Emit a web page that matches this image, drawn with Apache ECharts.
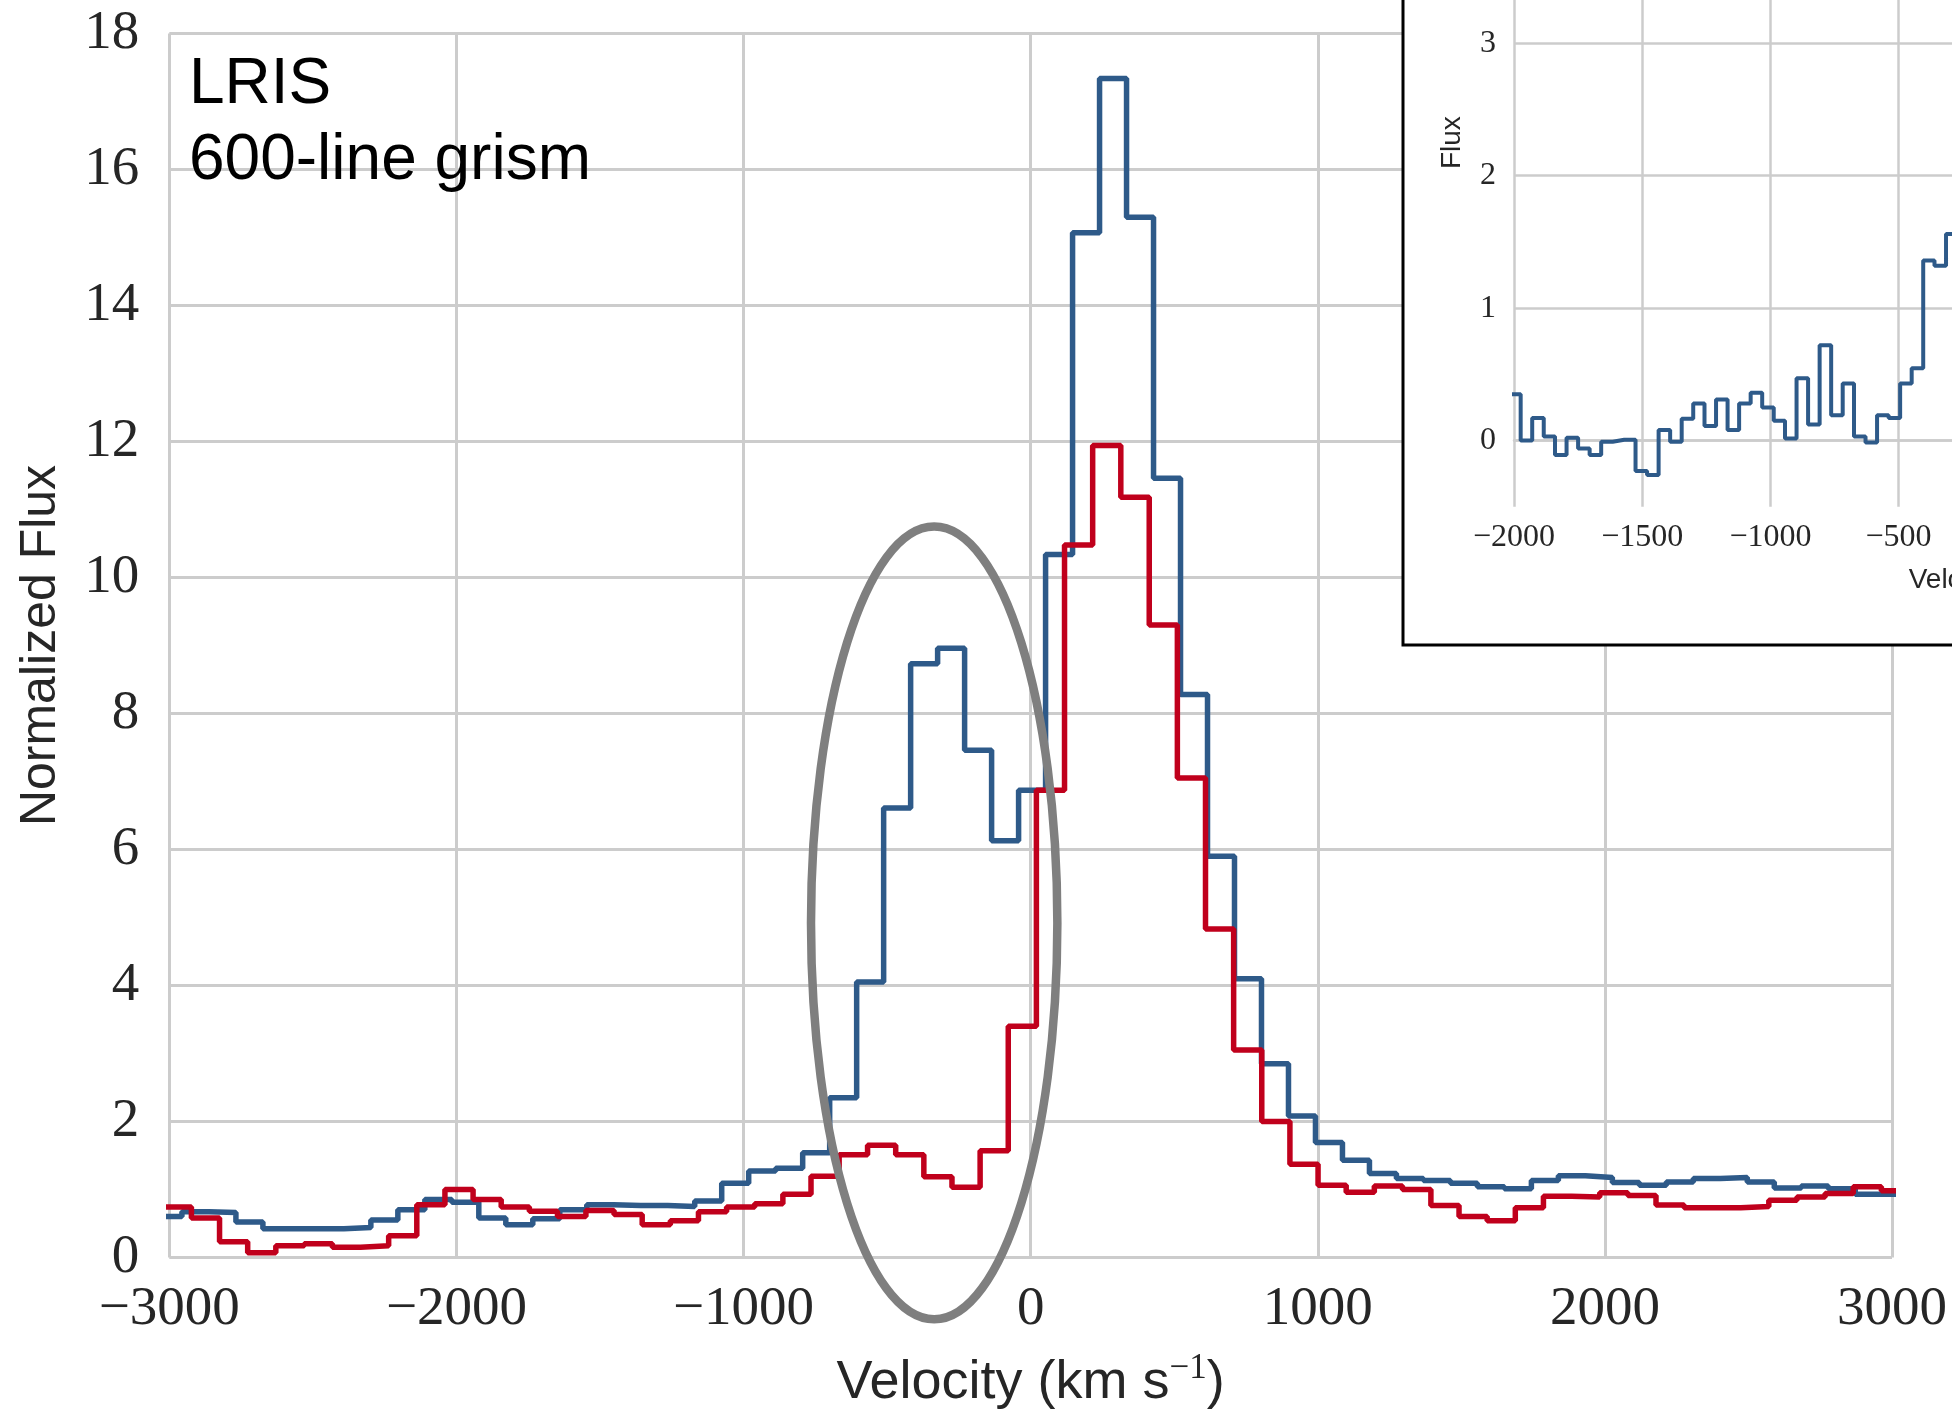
<!DOCTYPE html>
<html>
<head>
<meta charset="utf-8">
<script src="https://cdn.jsdelivr.net/npm/echarts@6/dist/echarts.min.js"></script>
<style>html,body{margin:0;padding:0;background:#fff}#c{width:1952px;height:1409px}</style>
</head>
<body>
<div id="c"></div>
<script>
// ---- main panel: blue spectrum (bin edges, km/s) ----
const blueEdges = [-3050, -2956, -2862, -2768, -2674, -2580, -2486, -2392, -2298, -2204, -2110, -2016, -1922, -1828, -1734, -1640, -1546, -1452, -1358, -1264, -1170, -1076, -982, -888, -794, -700, -606, -512, -418, -324, -230, -136, -42, 52, 146, 240, 334, 428, 522, 616, 710, 804, 898, 992, 1086, 1180, 1274, 1368, 1462, 1556, 1650, 1744, 1838, 1932, 2026, 2120, 2214, 2308, 2402, 2496, 2590, 2684, 2778, 2872, 2966, 3060];
const blueValues = [0.60, 0.67, 0.66, 0.52, 0.42, 0.42, 0.42, 0.44, 0.55, 0.70,
  0.85, 0.81, 0.58, 0.48, 0.57, 0.70, 0.775, 0.765, 0.765, 0.75,
  0.83, 1.09, 1.27, 1.31, 1.54, 2.35, 4.05, 6.61, 8.73, 8.96,
  7.46, 6.13, 6.87, 10.34, 15.07, 17.34, 15.30, 11.46, 8.28, 5.90,
  4.10, 2.85, 2.08, 1.69, 1.43, 1.235, 1.16, 1.13, 1.09, 1.04,
  1.01, 1.13, 1.20, 1.175, 1.10, 1.06, 1.11, 1.16, 1.175, 1.11,
  1.02, 1.05, 1.01, 0.93, 0.93];

// ---- main panel: red spectrum ----
const redEdges = [-3021, -2923, -2825, -2727, -2629, -2530, -2432, -2334, -2236, -2138, -2040, -1942, -1844, -1746, -1648, -1549, -1451, -1353, -1255, -1157, -1059, -961, -863, -765, -667, -568, -470, -372, -274, -176, -78, 20, 118, 216, 314, 413, 511, 609, 707, 805, 903, 1001, 1099, 1197, 1295, 1394, 1492, 1590, 1688, 1786, 1884, 1982, 2080, 2178, 2276, 2375, 2473, 2571, 2669, 2767, 2865, 2963, 3061];
const redValues = [0.74, 0.58, 0.23, 0.07, 0.17, 0.20, 0.15, 0.17, 0.32, 0.775,
  1.00, 0.85, 0.74, 0.68, 0.60, 0.69, 0.63, 0.48, 0.54, 0.67,
  0.74, 0.79, 0.93, 1.195, 1.51, 1.65, 1.51, 1.185, 1.03, 1.57,
  3.40, 6.87, 10.48, 11.94, 11.18, 9.30, 7.05, 4.83, 3.05, 2.00,
  1.37, 1.06, 0.96, 1.05, 1.00, 0.765, 0.60, 0.54, 0.73, 0.90,
  0.89, 0.95, 0.91, 0.77, 0.73, 0.73, 0.75, 0.84, 0.89, 0.94,
  1.04, 0.98];

// ---- inset spectrum ----
const insetEdges = [-2019, -1974, -1929, -1884, -1840, -1795, -1750, -1705, -1660, -1615, -1570, -1526, -1481, -1436, -1391, -1346, -1301, -1257, -1212, -1167, -1122, -1077, -1032, -987, -943, -898, -853, -808, -763, -718, -674, -629, -584, -539, -494, -449, -404, -360, -315, -270];
const insetValues = [0.35, 0.00, 0.17, 0.03, -0.11, 0.02, -0.06, -0.11, -0.01, 0.005,
  0.005, -0.23, -0.26, 0.08, -0.01, 0.165, 0.28, 0.11, 0.31, 0.08,
  0.28, 0.36, 0.25, 0.15, 0.016, 0.47, 0.12, 0.72, 0.19, 0.43,
  0.03, -0.016, 0.19, 0.17, 0.43, 0.545, 1.36, 1.32, 1.56];
const insetYTicks = [0, 1, 2, 3, 4, 5];

// highlight ellipse: [centre velocity, centre flux, half-width (km/s), half-height (flux)]
const ellipse = [-336, 4.92, 429, 5.83];

const annotationLines = ['LRIS', '600-line grism'];

function stepData(edges, values) {
  const d = [];
  for (let i = 0; i < values.length; i++) d.push([edges[i], values[i]]);
  d.push([edges[values.length], values[values.length - 1]]);
  return d;
}

const serif = 'Liberation Serif';
const sans = 'Liberation Sans';
const gridC = '#cccccc';
const ink = '#262626';
const blue = '#2e5a89';
const red = '#c0001c';
const minus = v => String(v).replace('-', '\u2212');

const chart = echarts.init(document.getElementById('c'), null, {renderer: 'canvas', width: 1952, height: 1409});

const option = {
  backgroundColor: '#ffffff',
  animation: false,
  grid: [
    {left: 169.3, top: 33.6, width: 1722.7, height: 1223.8, containLabel: false, outerBoundsMode: 'none'},
    {left: 1514, top: -221.5, width: 1025.6, height: 728.2, containLabel: false, outerBoundsMode: 'none'}
  ],
  xAxis: [
    {
      gridIndex: 0, type: 'value', min: -3000, max: 3000, interval: 1000,
      axisLine: {show: false}, axisTick: {show: false},
      axisLabel: {fontFamily: serif, fontSize: 55, color: ink, margin: 25, formatter: minus, showMinLabel: true, showMaxLabel: true, hideOverlap: false},
      splitLine: {show: true, lineStyle: {color: gridC, width: 3}},
      name: '{a|Velocity (km s}{b|\u22121}{a|)}',
      nameLocation: 'middle', nameGap: 94,
      nameTextStyle: {
        rich: {
          a: {fontFamily: sans, fontSize: 54, color: ink, lineHeight: 64},
          b: {fontFamily: serif, fontSize: 35, color: ink, verticalAlign: 'top', lineHeight: 35}
        }
      }
    },
    {
      gridIndex: 1, type: 'value', min: -2000, max: 2000, interval: 500, z: 11,
      axisLine: {show: true, lineStyle: {color: gridC, width: 2.5}}, axisTick: {show: false},
      axisLabel: {fontFamily: serif, fontSize: 32, color: ink, margin: 15, formatter: minus, showMinLabel: true, hideOverlap: false},
      splitLine: {show: true, lineStyle: {color: gridC, width: 2.5}},
      name: '{a|Velocity (km s}{b|\u22121}{a|)}',
      nameLocation: 'middle', nameGap: 57,
      nameTextStyle: {
        padding: [0, 34, 0, 0],
        rich: {
          a: {fontFamily: sans, fontSize: 28, color: ink, lineHeight: 34},
          b: {fontFamily: serif, fontSize: 19, color: ink, verticalAlign: 'top', lineHeight: 19}
        }
      }
    }
  ],
  yAxis: [
    {
      gridIndex: 0, type: 'value', min: 0, max: 18, interval: 2,
      axisLine: {show: false}, axisTick: {show: false},
      axisLabel: {fontFamily: serif, fontSize: 55, color: ink, margin: 30, showMinLabel: true, showMaxLabel: true},
      splitLine: {show: true, lineStyle: {color: gridC, width: 3}},
      name: 'Normalized Flux', nameLocation: 'middle', nameGap: 103,
      nameTextStyle: {fontFamily: sans, fontSize: 50, color: ink}
    },
    {
      gridIndex: 1, type: 'value', min: -0.5, max: 5, z: 11,
      axisLine: {show: false}, axisTick: {show: false, customValues: insetYTicks},
      axisLabel: {fontFamily: serif, fontSize: 32, color: ink, margin: 18, customValues: insetYTicks},
      splitLine: {show: true, lineStyle: {color: gridC, width: 2.5}},
      name: 'Flux', nameLocation: 'middle', nameGap: 48,
      nameTextStyle: {fontFamily: sans, fontSize: 28, color: ink}
    }
  ],
  graphic: [
    {type: 'rect', z: 10, silent: true, shape: {x: 1403, y: -20, width: 700, height: 665},
      style: {fill: '#ffffff', stroke: '#000000', lineWidth: 3}},
    {type: 'text', z: 5, silent: true, style: {text: annotationLines[0], x: 189, y: 85, fontFamily: sans, fontSize: 64, fill: '#000', align: 'left', verticalAlign: 'middle'}},
    {type: 'text', z: 5, silent: true, style: {text: annotationLines[1], x: 189, y: 161, fontFamily: sans, fontSize: 64, fill: '#000', align: 'left', verticalAlign: 'middle'}}
  ],
  series: [
    {
      type: 'line', xAxisIndex: 0, yAxisIndex: 0, step: 'end', z: 3,
      data: stepData(blueEdges, blueValues), showSymbol: false, symbol: 'none',
      lineStyle: {color: blue, width: 5.5}, clip: true
    },
    {
      type: 'line', xAxisIndex: 0, yAxisIndex: 0, step: 'end', z: 4,
      data: stepData(redEdges, redValues), showSymbol: false, symbol: 'none',
      lineStyle: {color: red, width: 5.5}, clip: true
    },
    {
      type: 'custom', xAxisIndex: 0, yAxisIndex: 0, z: 6, clip: false,
      data: [ellipse],
      renderItem: function (params, api) {
        const c = api.coord([api.value(0), api.value(1)]);
        const px = api.coord([api.value(0) + api.value(2), api.value(1)]);
        const py = api.coord([api.value(0), api.value(1) + api.value(3)]);
        return {
          type: 'ellipse',
          shape: {cx: c[0], cy: c[1], rx: Math.abs(px[0] - c[0]), ry: Math.abs(c[1] - py[1])},
          style: {fill: null, stroke: '#7f7f7f', lineWidth: 8.5}
        };
      }
    },
    {
      type: 'line', xAxisIndex: 1, yAxisIndex: 1, step: 'end', z: 12,
      data: stepData(insetEdges, insetValues), showSymbol: false, symbol: 'none',
      lineStyle: {color: blue, width: 4}, clip: true
    }
  ]
};
chart.setOption(option);
</script>
</body>
</html>
